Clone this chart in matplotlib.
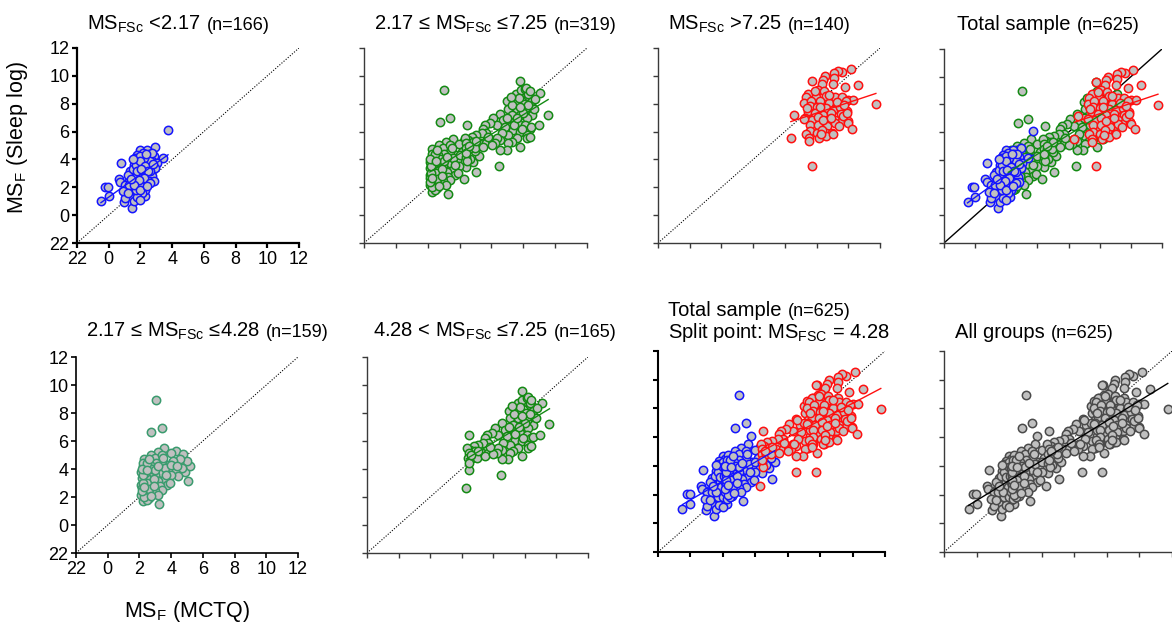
import numpy as np
import matplotlib
matplotlib.use('Agg')
import matplotlib.pyplot as plt

plt.rcParams['font.family'] = ['Liberation Sans', 'DejaVu Sans']
plt.rcParams['mathtext.fontset'] = 'custom'
plt.rcParams['mathtext.rm'] = 'Liberation Sans'
plt.rcParams['mathtext.it'] = 'Liberation Sans:italic'
plt.rcParams['mathtext.bf'] = 'Liberation Sans:bold'

# MS_F (MCTQ) vs MS_F (sleep log)
# group 1: MSFSc < 2.17
g1 = np.array([
    [3.74, 6.09], [2.94, 4.89], [0.79, 3.74], [-0.21, 2.02], [-0.05, 2.02], [-0.49, 0.99],
    [0.00, 1.35], [0.94, 0.94], [1.47, 0.51], [0.63, 2.59], [0.73, 2.40], [3.42, 4.10],
    [2.27, 1.35], [1.99, 4.70], [2.41, 4.70], [2.14, 4.46], [1.78, 4.34], [1.68, 4.10],
    [2.52, 4.39], [2.83, 4.22], [2.73, 3.86], [2.62, 3.50], [2.31, 3.26], [2.10, 3.02],
    [2.41, 2.78], [2.73, 2.78], [2.52, 2.42], [1.99, 2.66], [1.78, 2.31], [1.47, 2.07],
    [1.26, 1.83], [1.57, 1.59], [1.89, 1.23], [1.68, 1.35], [1.36, 1.35], [1.15, 1.59],
    [1.05, 1.23], [2.20, 2.07], [2.31, 1.83], [2.10, 1.59], [1.89, 3.86], [2.10, 3.62],
    [1.57, 3.62], [1.36, 3.14], [1.47, 2.78], [1.26, 2.42], [1.05, 2.18], [1.68, 3.14],
    [1.89, 3.38], [2.31, 3.91], [3.04, 3.74], [2.94, 3.38], [2.62, 3.14], [2.83, 2.42],
    [2.20, 2.42], [1.89, 1.95], [1.57, 0.99], [1.78, 1.28], [1.99, 1.11], [1.20, 2.90],
    [1.60, 2.50], [1.80, 2.90], [2.00, 2.20], [1.40, 1.90], [2.60, 3.90], [2.20, 4.10],
    [1.70, 1.80], [2.40, 3.40], [1.30, 2.20], [0.90, 1.70], [2.00, 4.25], [2.70, 4.45],
    [1.50, 3.30], [1.70, 3.60], [2.00, 3.90], [2.30, 3.50], [2.50, 3.20], [2.20, 2.70],
    [1.90, 2.50], [1.60, 2.20], [1.40, 2.60], [2.60, 2.30], [2.00, 1.80], [1.80, 3.20],
    [2.40, 2.10], [1.20, 1.60], [2.80, 3.70], [1.55, 4.05], [2.35, 4.40], [2.05, 3.30],
])

# group 2a: 2.17 <= MSFSc <= 4.28
g2a = np.array([
    [3.02, 8.95], [2.76, 6.67], [3.40, 6.96], [3.25, 1.52], [5.04, 3.11], [4.87, 3.82],
    [3.57, 5.49], [4.30, 5.30], [4.77, 5.06], [3.99, 5.13], [3.14, 5.25], [2.72, 5.01],
    [2.30, 4.73], [2.97, 4.82], [3.40, 5.01], [5.19, 4.25], [4.98, 4.58], [4.56, 4.73],
    [4.14, 4.54], [3.78, 4.30], [3.40, 4.54], [3.02, 4.42], [2.66, 4.30], [2.24, 4.18],
    [4.66, 4.06], [4.24, 3.82], [3.82, 3.94], [3.40, 3.71], [2.97, 3.59], [2.59, 3.63],
    [2.24, 3.71], [4.41, 3.47], [3.99, 3.54], [3.57, 3.23], [3.19, 3.11], [2.76, 3.23],
    [2.34, 3.11], [2.17, 3.35], [3.72, 2.87], [3.29, 2.76], [2.87, 2.87], [2.45, 2.64],
    [2.13, 2.87], [3.40, 2.52], [2.97, 2.45], [2.55, 2.28], [2.24, 2.40], [3.14, 2.16],
    [2.59, 1.92], [2.24, 1.69], [2.45, 1.81], [2.13, 2.16], [2.17, 2.64], [2.24, 4.42],
    [2.13, 3.82], [2.40, 3.40], [2.50, 3.00], [2.80, 4.00], [3.60, 4.10], [4.00, 4.30],
    [2.30, 2.00], [2.60, 2.60], [3.90, 3.00], [2.20, 3.00], [2.35, 3.70], [2.70, 2.10],
    [3.00, 3.90], [2.15, 2.40], [2.20, 3.55], [2.30, 4.00], [2.45, 4.40], [2.15, 4.00],
    [2.50, 3.90], [2.90, 3.30], [3.20, 4.20], [3.50, 4.80], [2.60, 4.70], [4.40, 4.20],
    [3.70, 3.60], [2.30, 2.70], [2.90, 2.80],
])

# group 2b: 4.28 < MSFSc <= 7.25
g2b = np.array([
    [4.29, 2.61], [6.49, 3.56], [4.47, 6.46], [7.79, 9.60], [7.54, 8.72], [8.11, 8.79],
    [8.32, 8.55], [7.84, 8.95], [7.00, 8.17], [7.52, 8.12], [8.05, 8.00], [8.53, 8.17],
    [8.60, 7.65], [8.53, 7.17], [7.06, 7.65], [7.59, 7.65], [8.11, 7.53], [7.27, 7.17],
    [7.80, 7.17], [8.21, 6.94], [6.53, 7.29], [6.74, 6.82], [7.16, 6.70], [7.69, 6.58],
    [8.11, 6.46], [8.42, 6.22], [6.11, 6.94], [6.32, 6.46], [5.91, 6.58], [6.85, 6.34],
    [7.37, 6.10], [7.80, 5.99], [8.21, 5.75], [7.59, 5.51], [7.06, 5.75], [7.27, 5.27],
    [7.80, 4.92], [8.21, 5.51], [8.42, 5.63], [6.64, 5.87], [6.53, 5.39], [7.06, 5.15],
    [6.95, 4.68], [5.59, 6.46], [5.48, 6.22], [5.69, 5.87], [5.38, 5.87], [5.06, 5.75],
    [4.75, 5.63], [4.54, 5.39], [4.33, 5.51], [4.85, 5.27], [5.27, 5.15], [5.69, 5.15],
    [6.01, 5.39], [6.32, 5.51], [6.53, 4.68], [6.22, 5.15], [4.43, 5.15], [4.39, 4.80],
    [4.64, 4.80], [4.96, 4.80], [4.48, 3.90], [4.43, 4.44], [5.48, 4.92], [6.01, 5.04],
    [9.08, 8.74], [8.76, 8.34], [8.68, 7.62], [8.51, 6.32], [8.97, 6.44], [9.56, 7.22],
    [8.13, 9.05], [8.30, 8.69], [8.19, 9.12], [7.30, 7.90], [7.70, 8.40], [8.00, 7.30],
    [7.40, 6.50], [7.90, 6.20], [8.30, 7.90], [7.00, 7.00], [7.80, 7.80], [8.40, 8.90],
    [7.20, 8.50], [7.60, 7.00], [5.00, 5.30], [5.80, 5.60], [4.60, 5.00],
])

# group 3: MSFSc > 7.25
g3 = np.array([
    [7.73, 3.55], [6.38, 5.54], [6.60, 7.17], [10.15, 10.51], [9.62, 10.28], [9.37, 10.37],
    [9.10, 10.20], [9.10, 9.84], [8.53, 9.96], [8.42, 9.73], [7.73, 9.65], [10.63, 9.37],
    [9.79, 9.17], [9.05, 9.41], [8.32, 9.41], [8.07, 9.01], [8.49, 8.89], [7.48, 8.72],
    [7.96, 8.46], [8.57, 8.58], [9.16, 8.46], [9.58, 8.46], [10.00, 8.29], [10.31, 8.29],
    [7.33, 8.46], [7.22, 8.05], [7.65, 8.22], [8.21, 8.22], [8.78, 8.05], [9.26, 7.93],
    [9.83, 8.22], [7.58, 7.81], [8.00, 7.74], [8.57, 7.69], [9.05, 7.57], [9.47, 7.74],
    [9.89, 7.45], [7.48, 7.41], [7.90, 7.33], [8.42, 7.21], [8.91, 7.33], [9.54, 7.26],
    [7.27, 6.97], [7.69, 6.85], [8.11, 7.02], [8.63, 6.85], [9.16, 6.85], [9.62, 6.73],
    [9.96, 6.73], [9.68, 7.09], [9.89, 7.33], [7.22, 6.93], [7.58, 6.50], [8.11, 6.50],
    [8.63, 6.38], [9.16, 6.62], [9.99, 6.62], [10.25, 6.21], [7.58, 6.02], [8.04, 5.90],
    [8.59, 5.90], [8.99, 5.90], [7.31, 5.83], [7.52, 5.54], [8.15, 5.54], [8.57, 5.66],
    [9.05, 5.83], [7.52, 5.30], [8.32, 6.14], [11.74, 7.98], [8.20, 7.80], [8.80, 8.60],
    [9.30, 8.10], [8.40, 6.80], [9.40, 6.40], [7.90, 8.90], [8.90, 7.00], [9.70, 7.90],
    [8.30, 5.80], [7.40, 7.70],
])

ticks = [-2, 0, 2, 4, 6, 8, 10, 12]
tick_labels = ['22', '0', '2', '4', '6', '8', '10', '12']

BLUE = '#1414ff'
GREEN = '#138a13'
RED = '#ff1010'
TEAL = '#3a9b6e'
GREYEDGE = '#4a4a4a'
FACE = '#c0c0c0'

W, H = 1172, 625
fig = plt.figure(figsize=(W / 100, H / 100), dpi=100)


def add_ax(l, t, r, b):
    return fig.add_axes([l / W, 1 - b / H, (r - l) / W, (b - t) / H])


def style(ax, labels=False, lw=1.0, color='#3a3a3a'):
    ax.set_xlim(-2, 12)
    ax.set_ylim(-2, 12)
    for s in ['top', 'right']:
        ax.spines[s].set_visible(False)
    for s in ['left', 'bottom']:
        ax.spines[s].set_linewidth(lw)
        ax.spines[s].set_color(color)
    ax.set_xticks(ticks)
    ax.set_yticks(ticks)
    ax.tick_params(direction='out', length=3.5, width=lw, color=color,
                   labelsize=13, pad=2)
    if labels:
        ax.set_xticklabels(tick_labels)
        ax.set_yticklabels(tick_labels)
    else:
        ax.set_xticklabels([])
        ax.set_yticklabels([])
    ax.patch.set_visible(False)


def pts(ax, d, edge):
    ax.scatter(d[:, 0], d[:, 1], s=36, facecolor=FACE, edgecolor=edge,
               linewidth=1.1, zorder=3, clip_on=False)


def fit(ax, d, color, lw=1.0):
    p = np.polyfit(d[:, 0], d[:, 1], 1)
    xs = np.array([d[:, 0].min(), d[:, 0].max()])
    ax.plot(xs, np.polyval(p, xs), color=color, lw=lw, zorder=4)


def identity(ax, solid=False):
    if solid:
        ax.axline((0, 0), slope=1, color='black', lw=1.0, zorder=2)
    else:
        ax.axline((0, 0), slope=1, color='black', lw=0.8,
                  linestyle=(0, (1, 1.5)), zorder=2)


renderer = fig.canvas.get_renderer()


def title(x_px, y_px, main, extra=''):
    t = fig.text(x_px / W, 1 - y_px / H, main, fontsize=14.5,
                 ha='left', va='baseline')
    if extra:
        bb = t.get_window_extent(renderer)
        fig.text((bb.x1 + 6) / W, 1 - y_px / H, extra, fontsize=13,
                 ha='left', va='baseline')


g2 = np.vstack([g2a, g2b])
low = np.vstack([g1, g2a])
high = np.vstack([g2b, g3])
everyone = np.vstack([g1, g2a, g2b, g3])

# top row
ax1 = add_ax(77, 48, 299, 243)
style(ax1, labels=True, lw=1.6, color='black')
identity(ax1)
pts(ax1, g1, BLUE)
fit(ax1, g1, BLUE)
title(87, 30, r'MS$_{\mathrm{FSc}}$ <2.17', '(n=166)')

ax2 = add_ax(364, 48, 587, 243)
style(ax2)
identity(ax2)
pts(ax2, g2, GREEN)
fit(ax2, g2, GREEN)
title(374, 30, r'2.17 ≤ MS$_{\mathrm{FSc}}$ ≤7.25', '(n=319)')

ax3 = add_ax(658, 48, 880, 243)
style(ax3)
identity(ax3)
pts(ax3, g3, RED)
fit(ax3, g3, RED)
title(668, 30, r'MS$_{\mathrm{FSc}}$ >7.25', '(n=140)')

ax4 = add_ax(944, 49, 1162, 243)
style(ax4)
identity(ax4, solid=True)
pts(ax4, g2, GREEN)
pts(ax4, g1, BLUE)
pts(ax4, g3, RED)
fit(ax4, g1, BLUE)
fit(ax4, g2, GREEN)
fit(ax4, g3, RED)
title(957, 30, 'Total sample', '(n=625)')

# bottom row
ax5 = add_ax(76, 357, 298, 553)
style(ax5, labels=True, lw=1.2, color='black')
identity(ax5)
pts(ax5, g2a, TEAL)
title(86, 337, r'2.17 ≤ MS$_{\mathrm{FSc}}$ ≤4.28', '(n=159)')

ax6 = add_ax(367, 357, 588, 553)
style(ax6)
identity(ax6)
pts(ax6, g2b, GREEN)
fit(ax6, g2b, GREEN)
title(373, 337, r'4.28 < MS$_{\mathrm{FSc}}$ ≤7.25', '(n=165)')

ax7 = add_ax(658, 351, 885, 552)
style(ax7, lw=1.5, color='black')
identity(ax7)
pts(ax7, low, BLUE)
pts(ax7, high, RED)
fit(ax7, low, BLUE)
fit(ax7, high, RED)
title(668, 316, 'Total sample', '(n=625)')
title(668, 338, r'Split point: MS$_{\mathrm{FSC}}$ = 4.28')

ax8 = add_ax(944, 351, 1172, 552)
style(ax8)
identity(ax8)
pts(ax8, everyone, GREYEDGE)
fit(ax8, everyone, 'black')
title(955, 338, 'All groups', '(n=625)')

fig.text(18 / W, 1 - 138 / H, r'MS$_{\mathrm{F}}$ (Sleep log)', rotation=90,
         fontsize=15.5, ha='center', va='center')
fig.text(187 / W, 1 - 611 / H, r'MS$_{\mathrm{F}}$ (MCTQ)', fontsize=15.5,
         ha='center', va='center')

fig.savefig('out.png', dpi=100)
